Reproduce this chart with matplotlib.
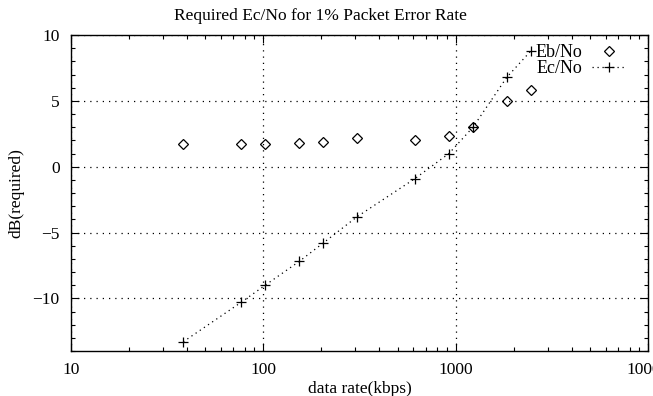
import matplotlib
matplotlib.use("Agg")
import matplotlib.pyplot as plt
from matplotlib.ticker import LogLocator, MultipleLocator, FixedLocator, NullFormatter

plt.rcParams['font.family'] = ['Liberation Serif', 'DejaVu Serif']

rates_kbps = [38.4, 76.8, 102.4, 153.6, 204.8, 307.2, 614.4, 921.6, 1228.8, 1843.2, 2457.6]
eb_no = [1.7, 1.7, 1.7, 1.8, 1.9, 2.2, 2.0, 2.3, 3.0, 5.0, 5.8]
ec_no = [-13.3, -10.3, -9.0, -7.2, -5.8, -3.8, -0.9, 1.0, 3.0, 6.8, 8.8]
x_ticks = [10, 100, 1000, 10000]
x_tick_labels = ["10", "100", "1000", "10000"]
y_ticks = [-10, -5, 0, 5, 10]

fig = plt.figure(figsize=(6.53, 3.96), dpi=100)
ax = fig.add_axes([0.1083, 0.1136, 0.8845, 0.7980])

ax.plot(rates_kbps, eb_no, linestyle='none', marker='D', markersize=4.6,
        markerfacecolor='none', markeredgecolor='black', markeredgewidth=0.9,
        label='Eb/No')
ax.plot(rates_kbps, ec_no, linestyle=(0, (1, 3)), color='black', linewidth=0.9,
        marker='+', markersize=6.5, markeredgewidth=0.9, label='Ec/No')

ax.set_xscale('log')
ax.set_xlim(10, 10000)
ax.set_ylim(-14, 10)
ax.xaxis.set_major_locator(FixedLocator(x_ticks))
ax.set_xticklabels(x_tick_labels)
ax.xaxis.set_minor_locator(LogLocator(base=10, subs=range(2, 10)))
ax.xaxis.set_minor_formatter(NullFormatter())
ax.yaxis.set_major_locator(FixedLocator(y_ticks))
ax.yaxis.set_minor_locator(MultipleLocator(1))

ax.tick_params(which='both', direction='in', top=True, right=True, width=0.8)
ax.tick_params(which='major', length=6, labelsize=12.5, pad=8)
ax.tick_params(which='minor', length=3)
for s in ax.spines.values():
    s.set_linewidth(1.0)

ax.grid(True, which='major', linestyle=(0, (1, 4)), color='black', linewidth=0.9)

fig.text(0.49, 0.96, 'Required Ec/No for 1% Packet Error Rate', fontsize=12.5,
         ha='center', va='center')
ax.set_xlabel('data rate(kbps)', fontsize=12.5, labelpad=2)
ax.set_ylabel('dB(required)', fontsize=12.5, labelpad=6)

ax.legend(loc='upper right', frameon=False, markerfirst=False, fontsize=13,
          handlelength=1.9, handletextpad=0.55, labelspacing=-0.05,
          borderaxespad=0.1, bbox_to_anchor=(0.9776, 1.0))

fig.savefig('out.png', dpi=100)
